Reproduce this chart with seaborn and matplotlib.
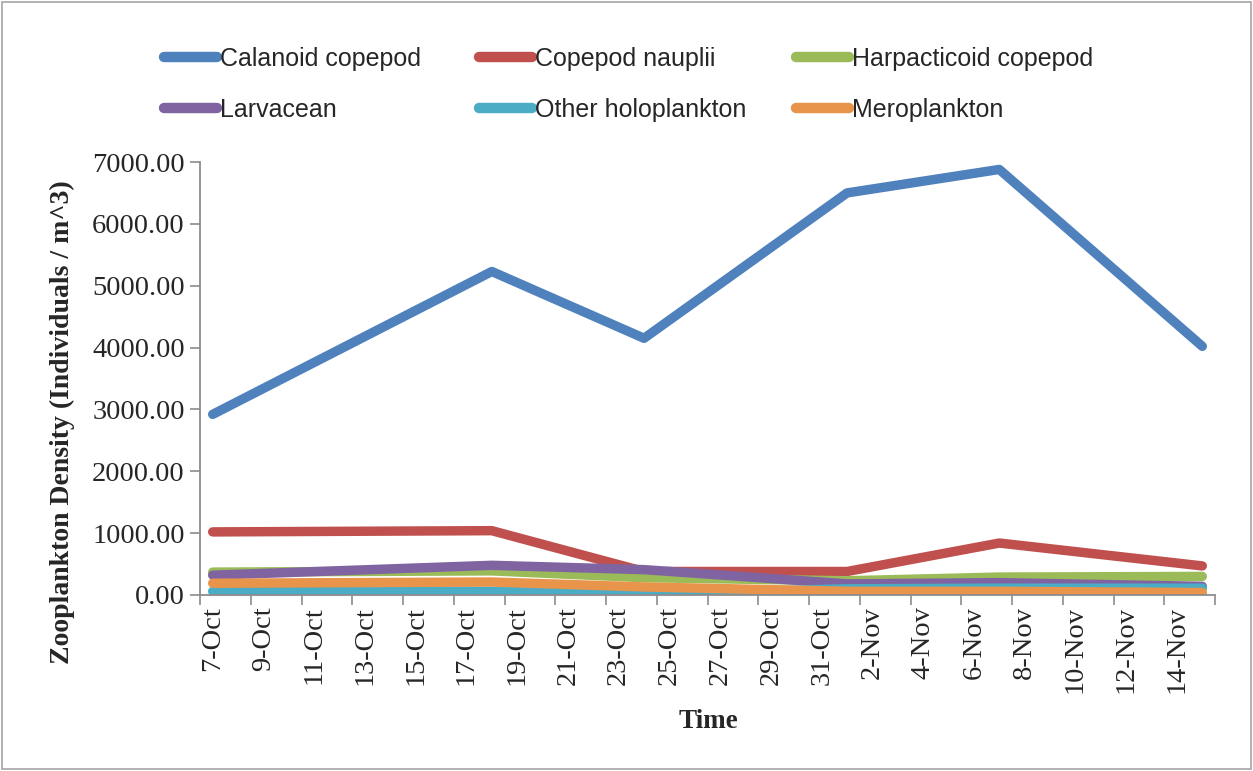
import matplotlib
matplotlib.use("Agg")
import matplotlib.pyplot as plt
import seaborn as sns
import pandas as pd
from matplotlib import font_manager
from matplotlib.patches import Rectangle

# ---------------- data ----------------
sample_dates = ["7-Oct", "18-Oct", "24-Oct", "1-Nov", "7-Nov", "15-Nov"]
calanoid = [2920, 5230, 4150, 6500, 6880, 4020]
nauplii = [1020, 1040, 380, 380, 840, 470]
harpacticoid = [370, 390, 280, 230, 290, 300]
larvacean = [320, 480, 410, 180, 200, 140]
other_holo = [60, 60, 15, 100, 110, 110]
meroplankton = [190, 210, 130, 60, 60, 40]

series_names = ["Calanoid copepod", "Copepod nauplii", "Harpacticoid copepod",
                "Larvacean", "Other holoplankton", "Meroplankton"]
series_values = [calanoid, nauplii, harpacticoid, larvacean, other_holo, meroplankton]
colors = ["#4F81BD", "#C0504D", "#9BBB59", "#8064A2", "#4BACC6", "#E8944A"]

tick_labels = ["7-Oct", "9-Oct", "11-Oct", "13-Oct", "15-Oct", "17-Oct", "19-Oct",
               "21-Oct", "23-Oct", "25-Oct", "27-Oct", "29-Oct", "31-Oct", "2-Nov",
               "4-Nov", "6-Nov", "8-Nov", "10-Nov", "12-Nov", "14-Nov"]
y_ticks = [0, 1000, 2000, 3000, 4000, 5000, 6000, 7000]

# ---------------- build frame ----------------
def day_index(s):
    d = pd.to_datetime(s + "-2013", format="%d-%b-%Y")
    return (d - pd.Timestamp("2013-10-07")).days

rows = []
for name, vals in zip(series_names, series_values):
    for d, v in zip(sample_dates, vals):
        rows.append({"day": day_index(d), "density": v, "series": name})
df = pd.DataFrame(rows)
tick_pos = [day_index(t) for t in tick_labels]

# ---------------- style ----------------
sns.set_theme(style="white")
names = {f.name for f in font_manager.fontManager.ttflist}
serif = "Liberation Serif"
legend_font = "Liberation Sans Narrow" if "Liberation Sans Narrow" in names else "Liberation Sans"
plt.rcParams["font.family"] = [serif, "DejaVu Serif"]

W, H = 1253, 771
fig = plt.figure(figsize=(W / 100, H / 100), dpi=100)
ax = fig.add_axes([200 / W, 1 - 595 / H, (1215 - 200) / W, (595 - 162) / H])

palette = dict(zip(series_names, colors))
sns.lineplot(data=df, x="day", y="density", hue="series", hue_order=series_names,
             palette=palette, linewidth=6.8, ax=ax, legend=False, sort=True)
for ln in ax.lines:
    ln.set_solid_capstyle("round")
    ln.set_solid_joinstyle("round")

ax.set_xlim(-0.5, 39.5)
ax.set_ylim(0, 7000)
ax.set_yticks(y_ticks)
ax.set_yticklabels([f"{v:.2f}" for v in y_ticks], fontsize=20.5, family=serif)

# labels at slot centres, tick marks at slot boundaries
ax.set_xticks(tick_pos)
ax.set_xticklabels(tick_labels, rotation=90, fontsize=20.5, family=serif)
ax.tick_params(axis="x", which="major", length=0, pad=8)
ax.set_xticks([p - 0.5 for p in tick_pos] + [39.5], minor=True)
ax.tick_params(axis="x", which="minor", length=7, width=1.2, color="#8C8C8C", direction="out", bottom=True)
ax.tick_params(axis="y", which="major", length=7, width=1.2, color="#8C8C8C", direction="out", left=True, pad=4)

for side in ["top", "right"]:
    ax.spines[side].set_visible(False)
for side in ["left", "bottom"]:
    ax.spines[side].set_color("#8C8C8C")
    ax.spines[side].set_linewidth(1.3)

ax.set_xlabel("")
ax.set_ylabel("")
fig.text(62 / W, 1 - 422 / H, "Zooplankton Density (Individuals / m^3)", rotation=90,
         ha="center", va="center", fontsize=20, fontweight="bold", family=serif)
fig.text(708 / W, 1 - 722 / H, "Time", ha="center", va="center", fontsize=19.5,
         fontweight="bold", family=serif)

# legend: three columns of two entries
handles = ax.lines[:6]
col_x = [164, 479, 796]
for c in range(3):
    idx = [c, c + 3]
    leg = fig.legend([handles[i] for i in idx], [series_names[i] for i in idx],
                     loc="upper left", bbox_to_anchor=(col_x[c] / W, 1 - 47 / H),
                     frameon=False, borderpad=0, borderaxespad=0, handlelength=2.1,
                     handletextpad=0.15, labelspacing=1.08,
                     prop={"family": legend_font, "size": 18})
    for lh in leg.get_lines():
        lh.set_linewidth(7.5)

fig.patches.append(Rectangle((2 / W, 2 / H), (W - 4) / W, (H - 4) / H, transform=fig.transFigure,
                             fill=False, edgecolor="#A6A6A6", linewidth=1.2))

fig.savefig("out.png", dpi=100)
